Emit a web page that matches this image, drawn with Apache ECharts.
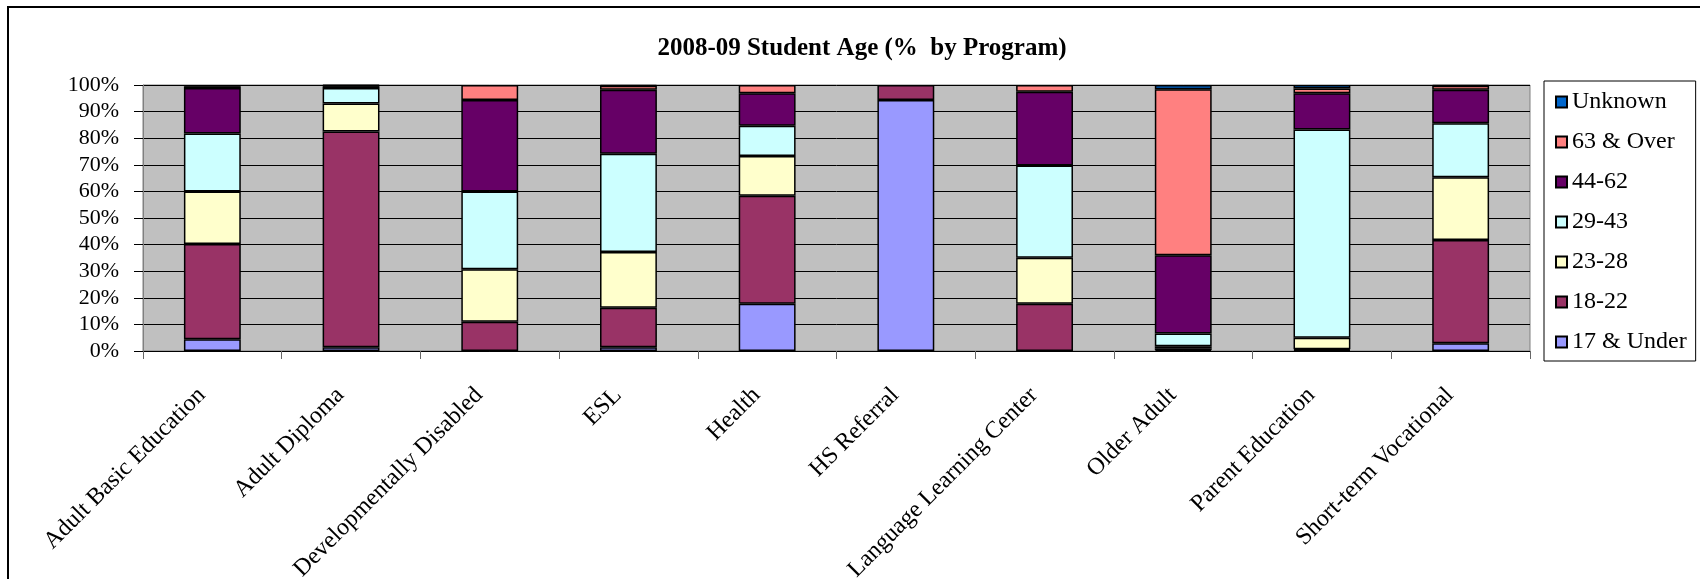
<!DOCTYPE html>
<html>
<head>
<meta charset="utf-8">
<script src="https://cdn.jsdelivr.net/npm/echarts@6/dist/echarts.min.js"></script>
<style>
html,body{margin:0;padding:0;background:#fff;}
#chart{width:1700px;height:579px;}
</style>
</head>
<body>
<div id="chart"></div>
<script>
var categories = ['Adult Basic Education','Adult Diploma','Developmentally Disabled','ESL','Health','HS Referral','Language Learning Center','Older Adult','Parent Education','Short-term Vocational'];
var under17 = [4.4, 1.4, 0, 1.4, 17.8, 94.4, 0, 0.4, 0.3, 2.9];
var age18_22 = [35.8, 81.1, 11.0, 14.9, 40.6, 5.6, 17.8, 0.6, 0.4, 38.8];
var age23_28 = [19.8, 10.5, 19.7, 20.9, 14.9, 0, 17.3, 0.8, 4.3, 23.6];
var age29_43 = [21.8, 5.9, 29.3, 37.0, 11.4, 0, 34.6, 4.8, 78.3, 20.3];
var age44_62 = [17.1, 0.6, 34.4, 24.0, 12.2, 0, 27.8, 29.4, 13.6, 12.6];
var over63 = [0.6, 0.3, 5.6, 1.5, 3.1, 0, 2.5, 62.4, 1.8, 1.5];
var unknown = [0.5, 0.2, 0, 0.3, 0, 0, 0, 1.6, 1.3, 0.3];
var seriesNames = ['17 & Under','18-22','23-28','29-43','44-62','63 & Over','Unknown'];
var seriesValues = [under17, age18_22, age23_28, age29_43, age44_62, over63, unknown];
var seriesColors = ['#9999FF','#993366','#FFFFCC','#CCFFFF','#660066','#FF8080','#0066CC'];
var yTicks = [0,10,20,30,40,50,60,70,80,90,100];

var FONT = "'Liberation Serif','Times New Roman',serif";
var chart = echarts.init(document.getElementById('chart'), null, {renderer:'canvas'});

var series = seriesNames.map(function(name, i){
  return {
    name: name,
    type: 'bar',
    stack: 'total',
    barWidth: '41%',
    data: seriesValues[i].map(function(v){ return v === 0 ? null : v; }),
    itemStyle: { color: seriesColors[i], borderColor: '#000', borderWidth: 1.5 },
    emphasis: { disabled: true }
  };
});

chart.setOption({
  animation: false,
  backgroundColor: '#fff',
  title: {
    text: '2008-09 Student Age (%  by Program)',
    left: 857, top: 31, textAlign: 'center',
    textStyle: { fontFamily: FONT, fontSize: 25, fontWeight: 'bold', color: '#000' }
  },
  graphic: [{
    type: 'rect', silent: true,
    shape: { x: 8, y: 7, width: 1800, height: 700 },
    style: { fill: 'none', stroke: '#000', lineWidth: 2 }
  }],
  legend: {
    orient: 'vertical',
    left: 1544, top: 81,
    data: ['Unknown','63 & Over','44-62','29-43','23-28','18-22','17 & Under'],
    icon: 'rect',
    itemWidth: 11, itemHeight: 11,
    itemGap: 16,
    padding: [9, 9, 7, 11],
    borderColor: '#000', borderWidth: 1,
    backgroundColor: '#fff',
    textStyle: { fontFamily: FONT, fontSize: 24, color: '#000', lineHeight: 24 },
    selectedMode: false
  },
  grid: {
    left: 143, right: 170, top: 85, bottom: 228,
    containLabel: false, outerBoundsMode: 'none',
    show: true, backgroundColor: '#C0C0C0', borderColor: '#808080', borderWidth: 1
  },
  xAxis: {
    type: 'category',
    data: categories,
    axisLine: { lineStyle: { color: '#000', width: 1 } },
    axisTick: { show: true, length: 8, lineStyle: { color: '#666' } },
    axisLabel: { rotate: 45, margin: 30, padding: [0, 15, 0, 0], interval: 0, fontFamily: FONT, fontSize: 24, color: '#000' }
  },
  yAxis: {
    type: 'value',
    min: yTicks[0], max: yTicks[yTicks.length-1], interval: 10,
    axisLine: { show: true, lineStyle: { color: '#808080' } },
    axisTick: { show: true, length: 9, lineStyle: { color: '#000' } },
    splitLine: { show: true, lineStyle: { color: '#000', width: 1 } },
    axisLabel: { formatter: '{value}%', margin: 24, fontFamily: FONT, fontSize: 22, color: '#000' }
  },
  series: series
});
</script>
</body>
</html>
